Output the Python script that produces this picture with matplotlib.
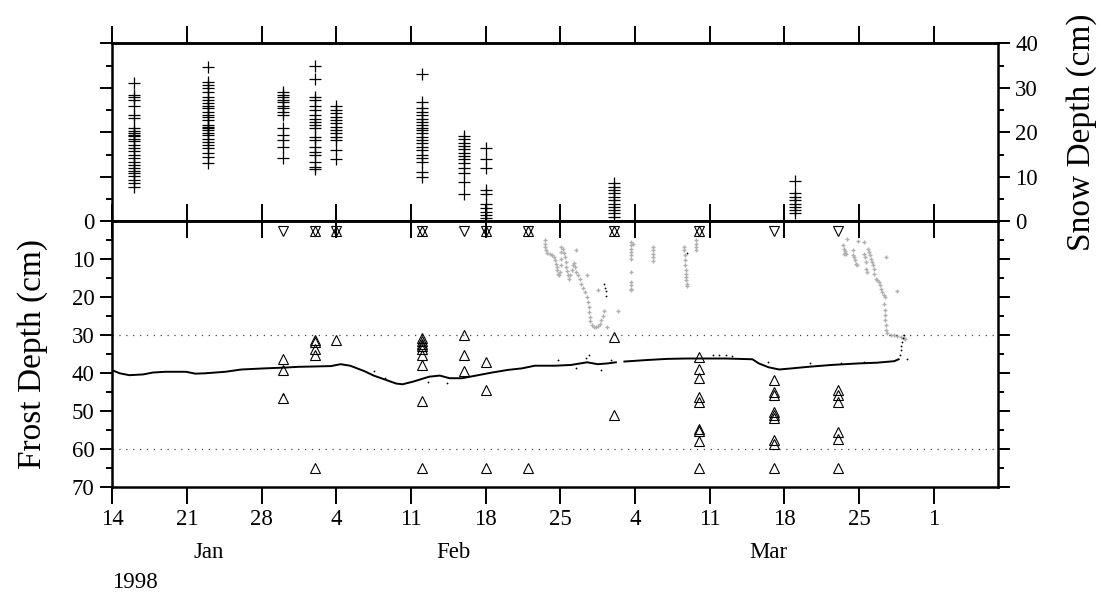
import numpy as np
import matplotlib.pyplot as plt
import matplotlib.dates as mdates
from matplotlib.ticker import MultipleLocator, FuncFormatter, NullFormatter
from datetime import datetime

plt.rcParams['font.family'] = 'Liberation Serif'
plt.rcParams['font.size'] = 16.5

start = datetime(1998, 1, 14)
end = datetime(1998, 4, 7)
t0 = mdates.date2num(start)

# --- manual snow survey (days after Jan 14, depth in cm) ---
snow_days = [2, 9, 16, 19, 21, 29, 33, 35, 47, 64]
snow_depths = [
    [31.0, 28.4, 28.0, 27.3, 25.9, 23.9, 23.2, 21.0, 20.2, 19.9, 19.5, 19.1, 18.4, 18.0,
     17.2, 16.4, 15.7, 14.9, 14.2, 13.4, 12.7, 11.9, 11.2, 10.8, 10.1, 9.3, 8.6, 7.8],
    [34.7, 31.4, 30.6, 29.9, 29.1, 28.0, 27.3, 26.5, 25.8, 25.4, 24.6, 23.9, 23.5, 22.8,
     21.6, 21.3, 20.9, 20.5, 19.8, 19.4, 18.6, 17.9, 17.1, 16.4, 15.3, 14.5, 13.2],
    [29.1, 28.4, 27.9, 27.3, 26.7, 25.9, 25.4, 24.6, 23.9, 21.0, 19.4, 18.3, 16.8, 14.2],
    [34.9, 31.9, 28.0, 27.3, 25.9, 25.0, 23.9, 23.1, 22.4, 21.6, 21.0, 19.0, 18.3, 16.8,
     15.6, 14.9, 13.4, 12.3, 11.7],
    [25.9, 25.0, 24.3, 23.5, 22.8, 22.0, 21.3, 20.5, 19.8, 19.0, 18.3, 16.0, 13.9],
    [33.1, 26.9, 25.4, 24.6, 23.9, 23.1, 22.4, 21.6, 21.0, 20.5, 19.8, 19.0, 18.3, 17.5,
     16.8, 16.0, 14.9, 14.2, 13.4, 11.1, 10.0],
    [19.2, 18.4, 17.7, 16.9, 16.2, 15.4, 14.7, 13.9, 13.0, 12.0, 10.9, 8.9, 6.1],
    [16.5, 14.0, 11.9, 7.0, 6.1, 4.0, 3.1, 2.2, 1.4, 0.7],
    [8.5, 7.8, 7.0, 6.3, 5.5, 4.8, 4.0, 3.3, 2.5, 1.8, 1.0],
    [9.1, 6.3, 5.5, 4.8, 4.0, 3.3, 2.5, 1.8],
]

# --- frost tube readings ---
tube_days = [16, 19, 21, 29, 33, 35, 39, 47, 55, 62, 68]
tube_depths = [
    [36.3, 39.2, 46.7],
    [31.4, 31.8, 33.6, 35.2, 65.0],
    [31.4],
    [30.7, 31.5, 32.3, 33.0, 33.8, 35.2, 37.9, 47.5, 65.0],
    [30.1, 35.4, 39.5],
    [37.0, 44.6, 65.0],
    [65.0],
    [30.4, 51.2],
    [35.7, 39.0, 41.4, 46.4, 47.8, 54.8, 55.2, 57.9, 65.0],
    [41.8, 45.1, 45.7, 50.4, 51.2, 52.0, 57.7, 58.7, 65.0],
    [44.4, 45.8, 47.7, 55.6, 57.4, 65.0],
]
surface_down_days = [16, 19, 21, 29, 33, 35, 39, 47, 55, 62, 68]
surface_up_days = [19, 21, 29, 35, 39, 47, 55]
surface_level = 2.5

# --- continuous frost probe trace ---
probe_days = [0.0, 0.7, 1.6, 2.9, 3.8, 5.0, 6.9, 7.8, 8.7, 10.6, 12.1, 14.3, 16.1, 17.4,
              20.5, 21.4, 22.3, 23.6, 24.5, 25.7, 26.6, 27.2, 28.2, 29.7, 30.7, 31.6,
              32.8, 34.1, 35.6, 37.1, 38.4, 39.6, 41.5, 43.0, 44.5, 45.5, 46.4, 47.2,
              47.6, 48.0, 50.1, 52.0, 53.8, 57.5, 60.0, 60.6, 61.5, 62.5, 63.7, 65.2,
              67.4, 69.9, 71.7, 73.3, 73.7]
probe_depth = [39.3, 40.1, 40.6, 40.4, 39.9, 39.7, 39.7, 40.2, 40.1, 39.7, 39.1, 38.8,
               38.6, 38.4, 38.2, 37.7, 38.1, 39.5, 40.7, 41.9, 42.8, 43.0, 42.3, 41.0,
               40.7, 41.4, 41.4, 40.7, 39.9, 39.2, 38.8, 38.1, 38.1, 37.9, 37.2, 37.7,
               37.5, 37.2, np.nan, 37.0, 36.6, 36.3, 36.2, 36.2, 36.4, 37.5, 38.5, 39.1,
               38.8, 38.4, 37.9, 37.5, 37.3, 36.9, 36.4]
probe_dot_days = [73.82, 73.88, 73.95, 74.04, 74.13, 74.19, 74.44, 24.5, 25.6, 16.0,
                  44.4, 44.7, 41.8, 46.7, 45.8, 43.5, 31.4, 29.6, 56.3, 56.9, 57.5,
                  58.1, 61.5, 65.4, 68.3, 70.5, 46.1, 46.2, 46.25, 46.3, 53.87]
probe_dot_depth = [35.3, 34.0, 32.9, 31.8, 30.9, 30.0, 36.4, 39.4, 41.4, 45.6,
                   36.1, 35.3, 36.6, 36.6, 39.2, 38.8, 42.7, 42.5, 35.3, 35.3, 35.3,
                   35.5, 37.0, 37.5, 37.5, 37.0, 16.5, 17.5, 18.5, 19.7, 8.3]

# --- snow sensor readings shown on the depth scale ---
sensor_days = [40.60, 40.60, 40.60, 40.66, 40.78, 41.00, 41.22, 41.40, 41.52, 41.59,
               41.65, 41.71, 41.77, 41.83, 41.96, 42.02, 42.08, 42.08, 42.08, 42.20,
               42.33, 42.39, 42.51, 42.57, 42.64, 42.70, 42.82, 42.94, 43.07, 43.19,
               43.31, 43.38, 43.50, 43.62, 43.81, 43.93, 44.12, 44.30, 44.49, 44.61,
               44.67, 44.70, 44.74, 44.80, 44.92, 45.11, 45.32, 45.54, 45.72, 45.85,
               45.97, 46.09, 43.47, 44.49, 45.48, 47.39, 46.40,
               48.62, 48.62, 48.62, 48.62, 48.62, 48.62, 48.62, 48.62, 48.62, 48.62,
               48.62, 48.81,
               50.66, 50.66, 50.66, 50.66, 50.66,
               53.56, 53.60, 53.66, 53.69, 53.72, 53.75, 53.78, 53.81, 53.81, 53.84, 53.87,
               54.68, 54.68, 54.68, 54.68,
               68.48, 68.57, 68.63, 68.69, 68.79, 68.57, 68.88, 69.40, 69.46, 69.56,
               69.62, 69.71, 69.80, 69.87, 70.42, 70.48, 70.55, 70.64, 70.64, 70.73,
               70.85, 70.95, 71.04, 71.10, 71.16, 71.26, 71.35, 71.41, 71.56, 71.72,
               71.87, 71.97, 72.09, 72.18, 72.34, 72.40, 72.49, 73.51, 72.34, 72.40,
               72.43, 72.46, 72.49, 72.52, 72.64, 72.95, 73.26, 73.57, 73.88, 74.19, 74.34]
sensor_depth = [5.02, 5.90, 6.78, 7.66, 8.27, 8.54, 8.98, 9.42, 10.30, 11.18,
                12.06, 12.93, 13.81, 14.25, 13.37, 11.62, 9.86, 8.10, 6.78, 7.22,
                8.27, 9.42, 10.74, 12.06, 13.20, 14.25, 15.13, 14.25, 12.93, 11.62,
                10.91, 12.06, 13.37, 14.25, 15.13, 16.45, 17.60, 18.65, 19.97, 21.29,
                22.61, 23.93, 25.25, 26.39, 27.45, 27.97, 27.89, 27.62, 27.01, 26.13,
                24.98, 23.75, 7.66, 14.25, 18.21, 23.66, 27.89,
                5.46, 6.34, 7.22, 8.10, 8.98, 9.86, 13.37, 16.01, 16.89, 17.77,
                18.21, 5.90,
                6.78, 7.66, 8.54, 9.42, 10.56,
                6.78, 7.66, 8.98, 10.30, 11.62, 12.93, 13.81, 14.69, 15.57, 16.45, 17.07,
                5.02, 5.90, 6.78, 7.66,
                6.34, 7.39, 7.92, 8.45, 8.62, 8.62, 4.75, 7.66, 8.98, 9.42,
                10.30, 11.18, 11.62, 5.28, 5.46, 8.54, 9.42, 10.74, 12.49, 13.37,
                7.22, 8.10, 8.98, 9.86, 10.74, 11.62, 12.49, 13.81, 15.13, 15.57,
                16.01, 16.89, 17.77, 18.65, 19.53, 19.97, 9.42, 18.48, 21.73, 23.49,
                24.81, 26.13, 27.45, 28.76, 29.38, 29.91, 30.08, 30.26, 30.52, 30.79, 31.14]

reference_levels = [30, 60]
month_names = ['Jan', 'Feb', 'Mar']
month_starts = [datetime(1998, 1, 1), datetime(1998, 2, 1),
                datetime(1998, 3, 1), datetime(1998, 4, 1)]

fig = plt.figure(figsize=(11.07, 5.93), dpi=100)
ax_s = fig.add_axes([0.1014, 0.6268, 0.8, 0.3002])
ax_f = fig.add_axes([0.1014, 0.1794, 0.8, 0.4474], sharex=ax_s)

sx = t0 + np.repeat(snow_days, [len(v) for v in snow_depths])
sy = np.concatenate(snow_depths)
ax_s.plot(sx, sy, '+', color='black', ms=8, mew=0.9, clip_on=False)

ax_f.plot(t0 + np.asarray(sensor_days), sensor_depth, '+', color='#b0b0b0',
          ms=3.5, mew=1.0)
for lvl in reference_levels:
    ax_f.axhline(lvl, color='#444444', lw=0.9, ls=(0, (1, 4.5)))
ax_f.plot(t0 + np.asarray(probe_days), probe_depth, '-', color='black', lw=1.4)
ax_f.plot(t0 + np.asarray(probe_dot_days), probe_dot_depth, 'o', color='black',
          ms=1.3, mew=0)

tx = t0 + np.repeat(tube_days, [len(v) for v in tube_depths])
ty = np.concatenate(tube_depths)
tri = dict(ls='none', mfc='none', mec='black', ms=7, mew=0.8)
ax_f.plot(tx, ty, '^', **tri)
ax_f.plot(t0 + np.asarray(surface_down_days),
          [surface_level] * len(surface_down_days), 'v', **tri)
ax_f.plot(t0 + np.asarray(surface_up_days),
          [surface_level] * len(surface_up_days), '^', **tri)

# axes limits and ticks
week = mdates.WeekdayLocator(byweekday=mdates.WE)
ax_f.set_xlim(mdates.date2num(start), mdates.date2num(end))
ax_s.set_ylim(0, 40)
ax_f.set_ylim(70, 0)

for ax in (ax_s, ax_f):
    for sp in ax.spines.values():
        sp.set_linewidth(1.8)
    ax.yaxis.set_major_locator(MultipleLocator(10))
    ax.yaxis.set_minor_locator(MultipleLocator(5))
    ax.tick_params(axis='y', which='both', direction='out', left=True, right=True,
                   width=1.4)
    ax.tick_params(axis='y', which='major', length=8.6, pad=4)
    ax.tick_params(axis='y', which='minor', length=4.3)
    ax.xaxis.set_major_locator(week)

ax_s.tick_params(axis='y', labelleft=False, labelright=True)
ax_s.tick_params(axis='x', direction='in', length=12.5, width=1.4, labelbottom=False)
ax_f.tick_params(axis='x', direction='out', length=12, width=1.4, pad=4)
ax_f.xaxis.set_major_formatter(
    FuncFormatter(lambda v, pos: str(mdates.num2date(v).day)))

# opposite-facing ticks on the outer edges
top_s = ax_s.secondary_xaxis('top')
top_s.xaxis.set_major_locator(week)
top_s.xaxis.set_major_formatter(NullFormatter())
top_s.tick_params(direction='out', length=12.5, width=1.4)
top_s.spines['top'].set_linewidth(1.8)

top_f = ax_f.secondary_xaxis('top')
top_f.xaxis.set_major_locator(week)
top_f.xaxis.set_major_formatter(NullFormatter())
top_f.tick_params(direction='in', length=12.5, width=1.4)
top_f.spines['top'].set_linewidth(1.8)

ax_f.set_ylabel('Frost Depth (cm)', fontsize=24, labelpad=17)
ax_s.yaxis.set_label_position('right')
ax_s.set_ylabel('Snow Depth (cm)', fontsize=24, labelpad=20)

# month names centred on the visible part of each month, year below
xtr = ax_f.get_xaxis_transform()
for name, a, b in zip(month_names, month_starts[:-1], month_starts[1:]):
    lo = max(mdates.date2num(a), mdates.date2num(start))
    hi = min(mdates.date2num(b), mdates.date2num(end))
    ax_f.text((lo + hi) / 2, -0.25, name, transform=xtr, ha='center', va='center')
ax_f.text(mdates.date2num(start), -0.363, str(start.year), transform=xtr,
          ha='left', va='center')

fig.savefig('out.png', dpi=100)
